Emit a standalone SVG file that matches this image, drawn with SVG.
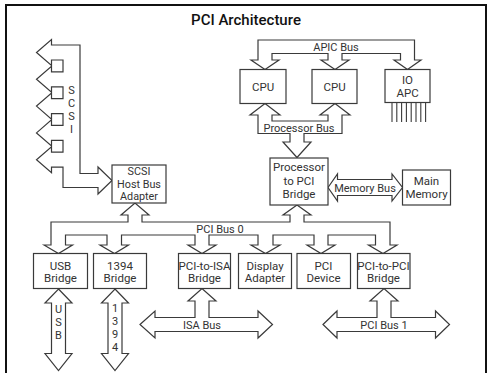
<svg xmlns="http://www.w3.org/2000/svg" width="488" height="373" viewBox="0 0 488 373">
<style>
.box{fill:#fff;stroke:#3a3a3a;stroke-width:1.2}
.bus{fill:#fff;stroke:#3a3a3a;stroke-width:1.2;stroke-linejoin:miter}
.pin{stroke:#3a3a3a;stroke-width:1.1}
text{font-family:Roboto,"Liberation Sans",sans-serif;fill:#333;text-anchor:middle}
.n{font-size:11.5px}
.s{font-size:10.8px}
.b{font-size:11px}
.v{font-size:11px;writing-mode:vertical-rl;text-orientation:upright}
.t{font-size:15px;font-weight:500;fill:#111}
</style>
<rect x="6" y="5" width="480" height="372" fill="#fff" stroke="#111" stroke-width="2"/>
<text class="t" x="246" y="25">PCI Architecture</text>
<g id="connectors">
<path id="scsi-bus" class="bus" d="M80,45 L51.5,45 L51.5,39.5 L36.5,52.5 L51.5,65.5 L51.5,60 L63,60 L63,71.8 L51.5,71.8 L51.5,66.3 L36.5,79.3 L51.5,92.3 L51.5,86.8 L63,86.8 L63,98.6 L51.5,98.6 L51.5,93.1 L36.5,106.1 L51.5,119.1 L51.5,113.6 L63,113.6 L63,125.4 L51.5,125.4 L51.5,119.9 L36.5,132.9 L51.5,145.9 L51.5,140.4 L63,140.4 L63,152.2 L51.5,152.2 L51.5,146.7 L36.5,159.7 L51.5,172.7 L51.5,167.2 L63,167.2 L63,187.5 L98,187.5 L98,194 L112,180.5 L98,167 L98,173.5 L80,173.5 Z"/>
<text class="v" x="71.5" y="109.5">SCSI</text>
<path id="apic-bus" class="bus" d="M258,40 L414.5,40 L414.5,60 L421,60 L407.5,69.5 L394,60 L400.5,60 L400.5,53.5 L342,53.5 L342,60 L349,60 L335,69.5 L321,60 L328,60 L328,53.5 L272,53.5 L272,60 L279,60 L265,69.5 L251,60 L258,60 Z"/>
<text class="b" x="336" y="51">APIC Bus</text>
<path id="processor-bus" class="bus" d="M258,133.5 L258,115 L250,115 L265,103.5 L280,115 L272,115 L272,121 L328,121 L328,115 L320,115 L335,103.5 L350,115 L342,115 L342,133.5 L304,133.5 L304,142 L311,142 L297,157.5 L283,142 L290,142 L290,133.5 Z"/>
<text class="b" x="299" y="131.5">Processor Bus</text>
<path id="memory-bus" class="bus" d="M328,187.5 L337.5,174 L337.5,179.5 L392,179.5 L392,174 L402.5,187.5 L392,201 L392,195.5 L337.5,195.5 L337.5,201 Z"/>
<text class="b" x="365" y="192">Memory Bus</text>
<path id="pci-bus-0" class="bus" d="M44,245 L58.5,253.5 L72.5,245 L65.5,245 L65.5,235 L107,235 L107,245 L100,245 L114.5,253.5 L128.5,245 L121.5,245 L121.5,235 L195,235 L195,245 L188,245 L202,253.5 L216,245 L209,245 L209,235 L258,235 L258,245 L251,245 L265.5,253.5 L280,245 L273,245 L273,235 L314,235 L314,245 L307,245 L321,253.5 L335,245 L328,245 L328,235 L375.5,235 L375.5,245 L368.5,245 L383,253.5 L397,245 L390,245 L390,222 L304,222 L304,215 L311,215 L297,205 L283,215 L290,215 L290,222 L142,222 L142,215 L149,215 L135,203 L121,215 L128,215 L128,222 L51,222 L51,245 Z"/>
<text class="b" x="220" y="233">PCI Bus 0</text>
<path id="usb-bus" class="bus" d="M58.5,289 L72,303 L65.5,303 L65.5,353.5 L72,353.5 L58.5,370.5 L45,353.5 L51.5,353.5 L51.5,303 L45,303 Z"/>
<text class="v" x="58.5" y="322">USB</text>
<path id="bus-1394" class="bus" d="M115,289 L128.5,303 L122,303 L122,353.5 L128.5,353.5 L115,370.5 L101.5,353.5 L108,353.5 L108,303 L101.5,303 Z"/>
<text class="v" x="115" y="328">1394</text>
<path id="isa-bus" class="bus" d="M140,324.5 L155,311 L155,317.5 L195,317.5 L195,301 L188,301 L202,288.5 L216,301 L209,301 L209,317.5 L258,317.5 L258,311 L272.5,324.5 L258,338 L258,331.5 L155,331.5 L155,338 Z"/>
<text class="b" x="202" y="328.5">ISA Bus</text>
<path id="pci-bus-1" class="bus" d="M323,324.5 L337,311 L337,317.5 L377,317.5 L377,301 L370,301 L384,288.5 L398,301 L391,301 L391,317.5 L435.5,317.5 L435.5,311 L449.5,324.5 L435.5,338 L435.5,331.5 L337,331.5 L337,338 Z"/>
<text class="b" x="384" y="328.5">PCI Bus 1</text>
</g>
<g id="scsi-adapter"><rect class="box" x="112" y="165" width="54" height="38"/><text class="s" x="139" y="175">SCSI</text><text class="s" x="139" y="187.5">Host Bus</text><text class="s" x="139" y="200">Adapter</text></g>
<g id="cpu1"><rect class="box" x="240" y="69.5" width="46" height="34"/><text class="n" x="263" y="90.5">CPU</text></g>
<g id="cpu2"><rect class="box" x="312" y="69.5" width="45" height="34"/><text class="n" x="334.5" y="90.5">CPU</text></g>
<g id="io-apic"><rect class="box" x="385" y="69.5" width="45" height="33"/><text class="n" x="407.5" y="84">IO</text><text class="n" x="407.5" y="97">APC</text>
<path class="pin" d="M392,102.5V122M396.8,102.5V122M401.6,102.5V122M406.4,102.5V122M411.2,102.5V122M416,102.5V122M420.8,102.5V122M425.6,102.5V122"/></g>
<g id="proc-pci-bridge"><rect class="box" x="270" y="158" width="58" height="47"/><text class="n" x="299" y="171">Processor</text><text class="n" x="299" y="184.5">to PCI</text><text class="n" x="299" y="198">Bridge</text></g>
<g id="main-memory"><rect class="box" x="402.5" y="170" width="48" height="35"/><text class="n" x="426.5" y="185">Main</text><text class="n" x="426.5" y="198">Memory</text></g>
<g id="usb-bridge"><rect class="box" x="33.5" y="253.5" width="54" height="35"/><text class="n" x="60.5" y="269.5">USB</text><text class="n" x="60.5" y="282">Bridge</text></g>
<g id="bridge-1394"><rect class="box" x="93.5" y="253.5" width="53" height="35"/><text class="n" x="120" y="269.5">1394</text><text class="n" x="120" y="282">Bridge</text></g>
<g id="pci-isa-bridge"><rect class="box" x="178.5" y="253.5" width="52" height="35"/><text class="n" x="204.5" y="269.5">PCI-to-ISA</text><text class="n" x="204.5" y="282">Bridge</text></g>
<g id="display-adapter"><rect class="box" x="238.5" y="253.5" width="53" height="35"/><text class="n" x="265" y="269.5">Display</text><text class="n" x="265" y="282">Adapter</text></g>
<g id="pci-device"><rect class="box" x="297" y="253.5" width="53.5" height="35"/><text class="n" x="323.5" y="269.5">PCI</text><text class="n" x="323.5" y="282">Device</text></g>
<g id="pci-pci-bridge"><rect class="box" x="357.5" y="253.5" width="52.5" height="35"/><text class="n" x="383.5" y="269.5">PCI-to-PCI</text><text class="n" x="383.5" y="282">Bridge</text></g>
</svg>
